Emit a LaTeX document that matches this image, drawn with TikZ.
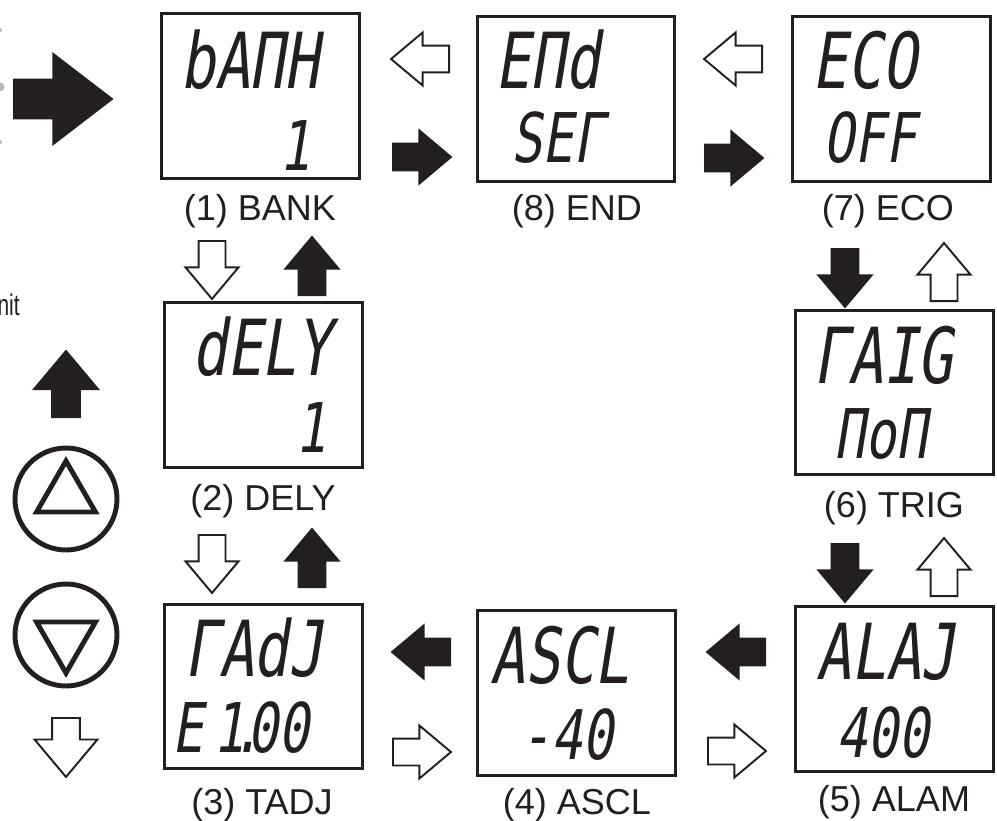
\documentclass[tikz,border=0pt]{standalone}
\usepackage{fontspec}
\setmainfont{Liberation Sans}
\newfontfamily\segfont[FakeSlant=0.16,FakeStretch=0.75]{DejaVu Sans Mono}
\newfontfamily\narrowfont[FakeStretch=0.7]{Liberation Sans}
\usetikzlibrary{shapes.arrows,shapes.geometric}
\definecolor{ink}{RGB}{35,31,32}
\tikzset{
	panel/.style={draw=ink, line width=1.7pt, minimum width=3.96cm, minimum height=3.3cm, inner sep=0pt},
	caption/.style={font=\fontsize{20.5}{24}\selectfont, anchor=base, inner sep=0pt, text=ink},
	segtop/.style={font=\segfont\fontsize{44}{44}\selectfont, inner sep=0pt, text=ink},
	segbot/.style={font=\segfont\fontsize{39}{39}\selectfont, inner sep=0pt, text=ink},
	blockarrow/.style={single arrow, draw=ink, line width=1.1pt, inner xsep=0pt, inner ysep=0.25cm,
		minimum height=1.16cm, anchor=tail,
		single arrow head extend=0.26cm, single arrow tip angle=80},
	fullarrow/.style={blockarrow, fill=ink},
	openarrow/.style={blockarrow, fill=white},
	knob/.style={draw=ink, circle, line width=2.8pt, minimum size=2.04cm, inner sep=0pt},
	wedge/.style={draw=ink, regular polygon, regular polygon sides=3, line width=2.8pt, minimum size=1.36cm, inner sep=0pt}
}
\begin{document}
\begin{tikzpicture}[x=0.02cm, y=-0.02cm]
	\useasboundingbox (0,0) rectangle (997,821);
	
	% cut-off remains at the left edge
	\fill[gray!55] (0,30) circle (2);
	\fill[gray!55] (0,87) circle (4.5);
	\fill[gray!55] (0,142) circle (2);
	\node[font=\narrowfont\fontsize{17}{20}\selectfont, anchor=base east, inner sep=0pt, text=ink] (unit) at (20,315) {nit};
	\node[fullarrow, inner ysep=0.37cm, minimum height=1.96cm, single arrow head extend=0.51cm, single arrow tip angle=75] (go) at (13,99) {};
	
	% the eight displays
	\node[panel] (p1) at (260.5,96) {};
	\node[panel] (p8) at (576,99) {};
	\node[panel] (p7) at (891.5,99) {};
	\node[panel] (p2) at (263.5,385) {};
	\node[panel] (p6) at (894.5,392.5) {};
	\node[panel] (p3) at (263.5,686.5) {};
	\node[panel] (p4) at (576.5,693) {};
	\node[panel] (p5) at (894.5,689) {};
	
	\node[segtop] (t1) at (250,60) {bAΠH};
	\node[segbot] (b1) at (295,146) {1};
	\node[segtop] (t8) at (548,60) {EΠd};
	\node[segbot] (b8) at (558,138) {SEΓ};
	\node[segtop] (t7) at (865,60) {ECO};
	\node[segbot] (b7) at (870,138) {OFF};
	\node[segtop] (t2) at (262,347) {dELY};
	\node[segbot] (b2) at (311,428) {1};
	\node[segtop] (t6) at (883,355) {ΓAIG};
	\node[segbot] (b6) at (881,434) {ΠoΠ};
	\node[segtop] (t3) at (254,648) {ΓAdJ};
	\node[segbot] (b3) at (241,728) {E\hspace{0.2cm}1\hspace{-0.27cm}.\hspace{-0.3cm}00};
	\node[segtop] (t4) at (560,655) {ASCL};
	\node[segbot] (b4) at (567,735) {-40};
	\node[segtop] (t5) at (886,652) {ALAJ};
	\node[segbot] (b5) at (883,733) {400};
	
	\node[caption] (c1) at (260,220) {(1) BANK};
	\node[caption] (c8) at (577,220) {(8) END};
	\node[caption] (c7) at (888,220) {(7) ECO};
	\node[caption] (c2) at (263,510) {(2) DELY};
	\node[caption] (c6) at (894,517) {(6) TRIG};
	\node[caption] (c3) at (262,814) {(3) TADJ};
	\node[caption] (c4) at (577,814) {(4) ASCL};
	\node[caption] (c5) at (894,811) {(5) ALAM};
	
	% steps between displays (placed at their tails)
	\node[openarrow, rotate=180] (l81) at (450,59) {};
	\node[fullarrow] (r18) at (392,157) {};
	\node[openarrow, rotate=180] (l78) at (763,59) {};
	\node[fullarrow] (r87) at (704,158) {};
	\node[openarrow, rotate=-90] (d12) at (212,240) {};
	\node[fullarrow, rotate=90] (u21) at (312,296) {};
	\node[openarrow, rotate=-90] (d23) at (212,534) {};
	\node[fullarrow, rotate=90] (u32) at (312,588) {};
	\node[fullarrow, rotate=-90] (d76) at (845,248) {};
	\node[openarrow, rotate=90] (u67) at (944,302) {};
	\node[fullarrow, rotate=-90] (d65) at (845,543) {};
	\node[openarrow, rotate=90] (u56) at (944,597) {};
	\node[fullarrow, rotate=180] (l43) at (451,652) {};
	\node[openarrow] (r34) at (392,752) {};
	\node[fullarrow, rotate=180] (l54) at (766,652) {};
	\node[openarrow] (r45) at (707,751) {};
	
	% keys
	\node[fullarrow, inner ysep=0.26cm, minimum height=1.32cm, single arrow head extend=0.36cm, rotate=90] (up) at (66,418) {};
	\node[knob] (kup) at (66,499) {};
	\node[wedge] (tup) at (66,495) {};
	\node[knob] (kdown) at (66,635) {};
	\node[wedge, shape border rotate=180] (tdown) at (66,639) {};
	\node[openarrow, inner ysep=0.26cm, minimum height=1.18cm, single arrow head extend=0.35cm, rotate=-90] (down) at (66,717) {};
\end{tikzpicture}
\end{document}
